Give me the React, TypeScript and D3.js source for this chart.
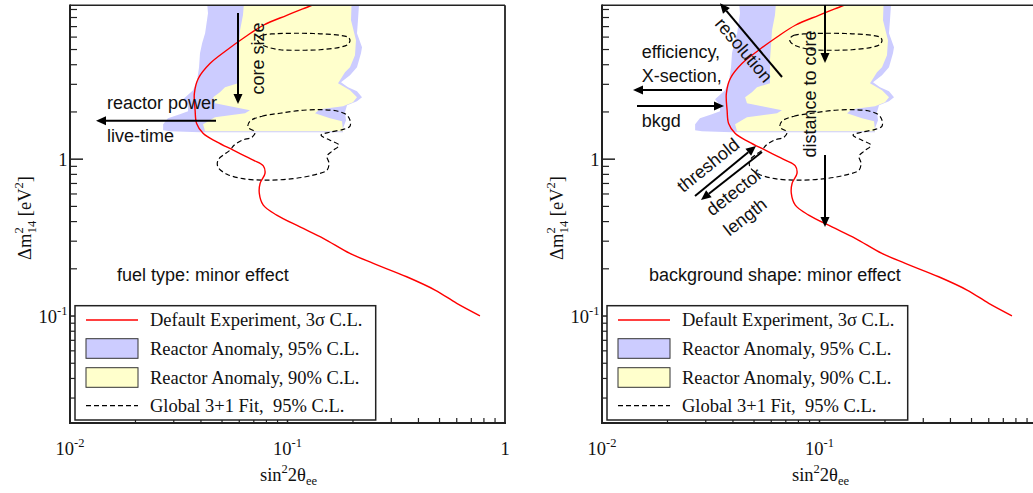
import React from 'react';
import * as d3 from 'd3';

type P = [number, number];

// axis domains (sin^2 2θ, Δm^2 in eV^2)
const X_DOMAIN: P = [0.01, 1];
const Y_DOMAIN: P = [0.0208, 9.57];

// Default experiment 3σ sensitivity curve
const defaultExperiment: P[] = [
  [0.140, 10.0], [0.127, 9.47], [0.0992, 8.26], [0.0774, 7.14], [0.0638, 6.01], [0.0525, 4.95],
  [0.0440, 4.07], [0.0389, 3.27], [0.0373, 2.62], [0.0376, 2.05], [0.0382, 1.69], [0.0410, 1.458],
  [0.0473, 1.289], [0.0563, 1.141], [0.0696, 0.985], [0.0774, 0.906], [0.0788, 0.811], [0.0748, 0.700],
  [0.0742, 0.605], [0.0774, 0.509], [0.0892, 0.440], [0.1141, 0.370], [0.146, 0.313], [0.1936, 0.2507],
  [0.248, 0.2166], [0.353, 0.178], [0.4766, 0.1465], [0.600, 0.1205], [0.767, 0.1004],
];

// Reactor anomaly 95% C.L. region
const reactorAnomaly95: P[] = [
  [0.0422, 12], [0.2154, 12], [0.2109, 7.68], [0.2087, 6.35], [0.2201, 5.17], [0.2177, 4.73],
  [0.2087, 3.855], [0.1938, 3.428], [0.1762, 3.093], [0.1898, 2.875], [0.2087, 2.711], [0.2201, 2.483],
  [0.2087, 2.342], [0.1878, 2.208], [0.1838, 1.992], [0.1858, 1.772], [0.1800, 1.576], [0.1800, 1.486],
  [0.0396, 1.486], [0.0288, 1.508], [0.0268, 1.530], [0.0268, 1.671], [0.0282, 1.824], [0.0320, 1.934],
  [0.0349, 2.021], [0.0349, 2.208], [0.0331, 2.411], [0.0368, 2.751], [0.0384, 3.185], [0.0392, 3.855],
  [0.0396, 4.73], [0.0405, 5.48], [0.0418, 6.35], [0.0431, 8.51],
];

// Reactor anomaly 90% C.L. region
const reactorAnomaly90: P[] = [
  [0.0638, 12], [0.1980, 12], [0.1959, 7.68], [0.2065, 5.73], [0.2043, 4.597], [0.1938, 3.855],
  [0.1838, 3.583], [0.1743, 3.185], [0.1707, 3.048], [0.1938, 2.751], [0.2087, 2.483], [0.2000, 2.307],
  [0.1800, 2.176], [0.1411, 2.082], [0.1338, 1.963], [0.1568, 1.824], [0.1781, 1.746], [0.1800, 1.530],
  [0.1800, 1.508], [0.0418, 1.508], [0.0409, 1.671], [0.0464, 1.852], [0.0638, 1.963], [0.0672, 2.051],
  [0.0544, 2.176], [0.0464, 2.274], [0.0455, 2.483], [0.0489, 2.672], [0.0516, 2.875], [0.0592, 3.048],
  [0.0592, 4.272], [0.0605, 6.63], [0.0624, 8.27],
];

// Global 3+1 fit 95% C.L. islands
const globalFitUpper: P[] = [
  [0.0732, 5.90], [0.0763, 6.165], [0.0876, 6.30], [0.1142, 6.35], [0.1411, 6.30], [0.1743, 6.165],
  [0.1898, 5.987], [0.1938, 5.73], [0.1898, 5.40], [0.1743, 5.17], [0.1411, 4.984], [0.1142, 4.947],
  [0.0924, 4.984], [0.0813, 5.17], [0.0755, 5.40], [0.0732, 5.645],
];
const globalFitLower: P[] = [
  [0.0672, 1.746], [0.0763, 1.878], [0.0924, 1.963], [0.1179, 2.051], [0.1456, 2.067], [0.1707, 2.021],
  [0.1878, 1.906], [0.1938, 1.772], [0.1938, 1.623], [0.1819, 1.553], [0.1568, 1.486], [0.1426, 1.422],
  [0.1568, 1.321], [0.1725, 1.228], [0.1602, 1.124], [0.1519, 1.045], [0.1551, 0.943], [0.1519, 0.851],
  [0.1310, 0.791], [0.1060, 0.751], [0.0805, 0.735], [0.0624, 0.751], [0.0527, 0.802], [0.0479, 0.889],
  [0.0479, 0.985], [0.0505, 1.060], [0.0544, 1.141], [0.0568, 1.228], [0.0618, 1.321], [0.0687, 1.381],
  [0.0709, 1.486], [0.0658, 1.599],
];

const xMinorTicks = [0.02, 0.03, 0.04, 0.05, 0.06, 0.07, 0.08, 0.09, 0.2, 0.3, 0.4, 0.5, 0.6, 0.7, 0.8, 0.9];
const xMajorTicks = [0.1];
const yMinorTicks = [0.03, 0.04, 0.05, 0.06, 0.07, 0.08, 0.09, 0.2, 0.3, 0.4, 0.5, 0.6, 0.7, 0.8, 0.9, 2, 3, 4, 5, 6, 7, 8, 9];
const yMajorTicks = [0.1, 1];
const xTickLabels = [
  { v: 0.01, base: '10', exp: '-2' },
  { v: 0.1, base: '10', exp: '-1' },
  { v: 1, base: '1', exp: '' },
];
const yTickLabels = [
  { v: 1, base: '1', exp: '' },
  { v: 0.1, base: '10', exp: '-1' },
];
const legendLabels = [
  'Default Experiment, 3σ C.L.',
  'Reactor Anomaly, 95% C.L.',
  'Reactor Anomaly, 90% C.L.',
  'Global 3+1 Fit,  95% C.L.',
];

const SERIF = '"Liberation Serif", "Times New Roman", Times, serif';
const SANS = '"Liberation Sans", Arial, Helvetica, sans-serif';
const BLUE = '#ccccff';
const YELLOW = '#ffffcc';
const RED = '#ff0000';
const VIEW_W = 1033;

function Arrow({ x1, y1, x2, y2 }: { x1: number; y1: number; x2: number; y2: number }) {
  const a = Math.atan2(y2 - y1, x2 - x1);
  const hl = 10, hw = 4.5;
  const bx = x2 - hl * Math.cos(a), by = y2 - hl * Math.sin(a);
  const px = -Math.sin(a) * hw, py = Math.cos(a) * hw;
  return (
    <g>
      <line x1={x1} y1={y1} x2={bx} y2={by} stroke="#000" strokeWidth={2} />
      <polygon points={`${x2},${y2} ${bx + px},${by + py} ${bx - px},${by - py}`} fill="#000" />
    </g>
  );
}

function Panel({ x0, id, children, note }: { x0: number; id: string; children?: React.ReactNode; note: string }) {
  const W = 435, top = 5.3, bottom = 423;
  const dx = x0 - 70;
  const x = d3.scaleLog().domain(X_DOMAIN).range([x0, x0 + W]);
  const y = d3.scaleLog().domain(Y_DOMAIN).range([bottom, top]);
  const open = d3.line<P>().x(d => x(d[0])).y(d => y(d[1])).curve(d3.curveCatmullRom.alpha(0.5));
  const poly = d3.line<P>().x(d => x(d[0])).y(d => y(d[1])).curve(d3.curveLinearClosed);
  const smoothClosed = d3.line<P>().x(d => x(d[0])).y(d => y(d[1])).curve(d3.curveCatmullRomClosed.alpha(0.5));
  const legendY = [320, 348.5, 377.5, 405.7];
  return (
    <g>
      <defs>
        <clipPath id={id}>
          <rect x={x0} y={top} width={W} height={bottom - top} />
        </clipPath>
      </defs>
      <g clipPath={`url(#${id})`}>
        <path d={poly(reactorAnomaly95) || ''} fill={BLUE} />
        <path d={poly(reactorAnomaly90) || ''} fill={YELLOW} />
        <path d={smoothClosed(globalFitUpper) || ''} fill="none" stroke="#000" strokeWidth={1.2} strokeDasharray="5,3" />
        <path d={smoothClosed(globalFitLower) || ''} fill="none" stroke="#000" strokeWidth={1.2} strokeDasharray="5,3" />
        <path d={open(defaultExperiment) || ''} fill="none" stroke={RED} strokeWidth={1.4} />
      </g>
      {/* ticks */}
      {yMinorTicks.map(v => (
        <line key={'ym' + v} x1={x0} x2={x0 + 7} y1={y(v)} y2={y(v)} stroke="#222" strokeWidth={1.2} />
      ))}
      {yMajorTicks.map(v => (
        <line key={'yM' + v} x1={x0} x2={x0 + 13} y1={y(v)} y2={y(v)} stroke="#222" strokeWidth={1.5} />
      ))}
      {xMinorTicks.map(v => (
        <line key={'xm' + v} x1={x(v)} x2={x(v)} y1={bottom} y2={bottom - 5} stroke="#222" strokeWidth={1.2} />
      ))}
      {xMajorTicks.map(v => (
        <line key={'xM' + v} x1={x(v)} x2={x(v)} y1={bottom} y2={bottom - 10} stroke="#222" strokeWidth={1.5} />
      ))}
      {/* frame */}
      <line x1={x0} x2={x0 + W} y1={top} y2={top} stroke="#222" strokeWidth={1.6} />
      <line x1={x0 + W} x2={x0 + W} y1={top} y2={bottom} stroke="#222" strokeWidth={1.8} />
      <line x1={x0} x2={x0} y1={top - 0.8} y2={bottom + 1} stroke="#222" strokeWidth={2} />
      <line x1={x0 - 1} x2={x0 + W + 1} y1={bottom} y2={bottom} stroke="#222" strokeWidth={2} />
      {/* tick labels */}
      {yTickLabels.map(t => (
        <text key={'yl' + t.v} x={x0 - 2.5} y={y(t.v) + 7} textAnchor="end" fontFamily={SERIF} fontSize={18.5} fill="#111">
          {t.base}
          {t.exp && <tspan dy={-8} fontSize={12.5}>{t.exp}</tspan>}
        </text>
      ))}
      {xTickLabels.filter(t => x(t.v) < VIEW_W - 8).map(t => (
        <text key={'xl' + t.v} x={x(t.v)} y={455} textAnchor="middle" fontFamily={SERIF} fontSize={18.5} fill="#111">
          {t.base}
          {t.exp && <tspan dy={-8} fontSize={12.5}>{t.exp}</tspan>}
        </text>
      ))}
      {/* axis titles */}
      <text x={x0 + W / 2 + 1} y={481} textAnchor="middle" fontFamily={SERIF} fontSize={18.5} fill="#111">
        sin<tspan dy={-8} fontSize={12.5}>2</tspan><tspan dy={8}>2θ</tspan><tspan dy={4} fontSize={12.5}>ee</tspan>
      </text>
      <text transform={`translate(${x0 - 39},218) rotate(-90)`} textAnchor="middle" fontFamily={SERIF} fontSize={18.5} fill="#111">
        Δm<tspan dy={-8} fontSize={12.5}>2</tspan><tspan dx={-6} dy={13} fontSize={12.5}>14</tspan>
        <tspan dy={-5}> [eV</tspan><tspan dy={-8} fontSize={12.5}>2</tspan><tspan dy={8}>]</tspan>
      </text>
      {/* annotations */}
      <g transform={`translate(${dx},0)`}>
        <text x={117} y={281} fontFamily={SANS} fontSize={18} fill="#111" style={{ whiteSpace: 'pre' }}>{note}</text>
        {children}
      </g>
      {/* legend */}
      <g transform={`translate(${dx},0)`}>
        <rect x={75} y={305.7} width={300.7} height={114.3} fill="#fff" stroke="#222" strokeWidth={1.5} />
        <line x1={86} x2={138} y1={legendY[0]} y2={legendY[0]} stroke={RED} strokeWidth={1.4} />
        <rect x={86} y={legendY[1] - 9.8} width={52} height={19.6} fill={BLUE} stroke="#333" strokeWidth={1} />
        <rect x={86} y={legendY[2] - 9.8} width={52} height={19.6} fill={YELLOW} stroke="#333" strokeWidth={1} />
        <line x1={86} x2={138} y1={legendY[3]} y2={legendY[3]} stroke="#000" strokeWidth={1.2} strokeDasharray="5,3" />
        {legendLabels.map((l, i) => (
          <text key={l} x={150} y={legendY[i] + 6} fontFamily={SERIF} fontSize={18.5} fill="#111" style={{ whiteSpace: 'pre' }}>{l}</text>
        ))}
      </g>
    </g>
  );
}

export default function App() {
  return (
    <svg width={1033} height={493} style={{ position: 'absolute', left: 0, top: 0, background: '#fff' }}>
      <rect x={0} y={0} width={1033} height={493} fill="#fff" />
      <Panel x0={70} id="clipL" note="fuel type: minor effect">
        <Arrow x1={238} y1={13} x2={238} y2={104} />
        <text transform="translate(263.5,58.5) rotate(-90)" textAnchor="middle" fontFamily={SANS} fontSize={18} fill="#111">core size</text>
        <Arrow x1={216} y1={120.7} x2={96} y2={120.7} />
        <text x={107} y={108.5} fontFamily={SANS} fontSize={18} fill="#111">reactor power</text>
        <text x={107} y={141.5} fontFamily={SANS} fontSize={18} fill="#111">live-time</text>
      </Panel>
      <Panel x0={602} id="clipR" note="background shape: minor effect">
        <Arrow x1={250} y1={77} x2={188} y2={3.3} />
        <text transform="translate(212,50) rotate(50)" dy="0.35em" textAnchor="middle" fontFamily={SANS} fontSize={18} fill="#111">resolution</text>
        <text x={109.7} y={58.3} fontFamily={SANS} fontSize={18} fill="#111">efficiency,</text>
        <text x={109.7} y={81.7} fontFamily={SANS} fontSize={18} fill="#111">X-section,</text>
        <Arrow x1={190} y1={90} x2={101} y2={90} />
        <Arrow x1={105} y1={106} x2={192} y2={106} />
        <text x={109.7} y={126.7} fontFamily={SANS} fontSize={18} fill="#111">bkgd</text>
        <text transform="translate(284,94) rotate(-90)" textAnchor="middle" fontFamily={SANS} fontSize={18} fill="#111">distance to core</text>
        <Arrow x1={293} y1={5} x2={293} y2={63} />
        <Arrow x1={293} y1={155} x2={293} y2={227} />
        <Arrow x1={163} y1={196} x2={224} y2={146} />
        <Arrow x1={230} y1={152} x2={169} y2={200} />
        <text transform="translate(176,165) rotate(-39)" dy="0.35em" textAnchor="middle" fontFamily={SANS} fontSize={18} fill="#111">threshold</text>
        <text transform="translate(202,191.7) rotate(-38)" dy="0.35em" textAnchor="middle" fontFamily={SANS} fontSize={18} fill="#111">detector</text>
        <text transform="translate(213,216.7) rotate(-38)" dy="0.35em" textAnchor="middle" fontFamily={SANS} fontSize={18} fill="#111">length</text>
      </Panel>
    </svg>
  );
}
